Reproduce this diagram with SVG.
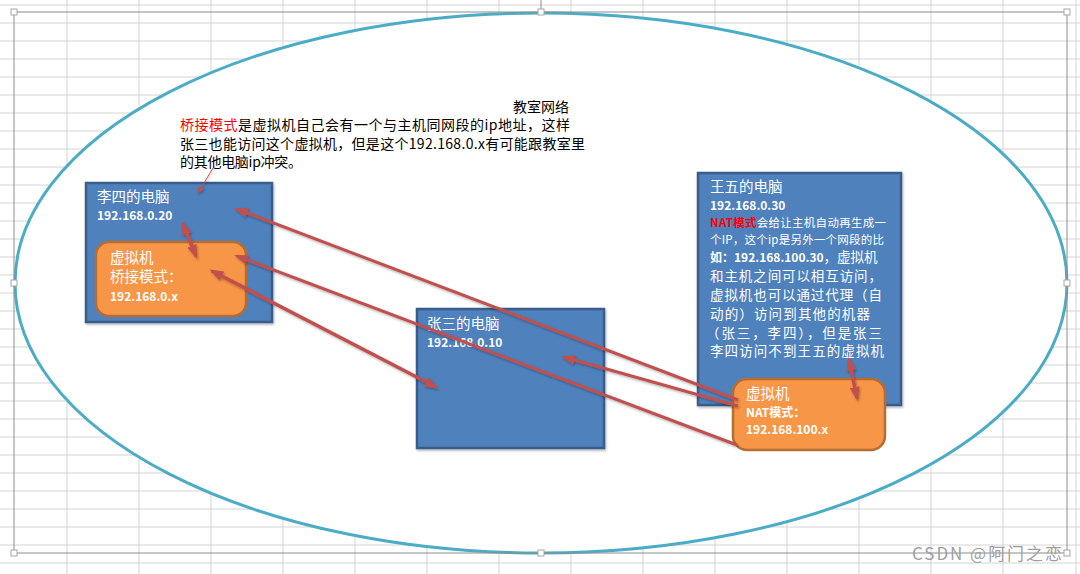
<svg xmlns="http://www.w3.org/2000/svg" width="1080" height="574" viewBox="0 0 1080 574">
<style>
.grid line{stroke:#d4d4d4;stroke-width:1}
.pc{fill:#4F81BD;stroke:#385D8A;stroke-width:2.5}
.vm{fill:#F79646;stroke:#B66D31;stroke-width:2.5}
text{font-family:"Noto Sans CJK SC","Noto Sans",sans-serif;}
.w{fill:#ffffff}
.t{font-size:14.5px}
.t2{font-size:13.5px}
.b{font-size:12px;font-weight:bold}
.s{font-size:11.5px}
.blk{fill:#000000;font-size:14px}
.red{fill:#FF0000}
.conn line{stroke:#C0504D;fill:none}
.thick{stroke-width:3}
.thicker{stroke-width:3.5}
.hd{fill:#ffffff;stroke:#a6a6a6;stroke-width:1}
</style>
<defs>
<marker id="ah" viewBox="0 0 14 10" markerWidth="14" markerHeight="10" refX="11" refY="5" orient="auto-start-reverse" markerUnits="userSpaceOnUse">
<path d="M0,0 L14,5 L0,10 z" fill="#C0504D"/>
</marker>
<marker id="ahs" viewBox="0 0 8 6" markerWidth="8" markerHeight="6" refX="7" refY="3" orient="auto" markerUnits="userSpaceOnUse">
<path d="M0,0 L8,3 L0,6 z" fill="#C0504D"/>
</marker>
<filter id="sh" x="-10%" y="-10%" width="130%" height="130%">
<feDropShadow dx="1" dy="1.5" stdDeviation="1" flood-color="#000" flood-opacity="0.3"/>
</filter>
</defs>
<rect width="1080" height="574" fill="#ffffff"/>
<g class="grid">
<line x1="0" y1="5" x2="1080" y2="5"/><line x1="0" y1="23" x2="1080" y2="23"/><line x1="0" y1="41" x2="1080" y2="41"/><line x1="0" y1="59" x2="1080" y2="59"/><line x1="0" y1="77" x2="1080" y2="77"/><line x1="0" y1="95" x2="1080" y2="95"/><line x1="0" y1="113" x2="1080" y2="113"/><line x1="0" y1="131" x2="1080" y2="131"/><line x1="0" y1="149" x2="1080" y2="149"/><line x1="0" y1="167" x2="1080" y2="167"/><line x1="0" y1="185" x2="1080" y2="185"/><line x1="0" y1="203" x2="1080" y2="203"/><line x1="0" y1="221" x2="1080" y2="221"/><line x1="0" y1="239" x2="1080" y2="239"/><line x1="0" y1="257" x2="1080" y2="257"/><line x1="0" y1="275" x2="1080" y2="275"/><line x1="0" y1="293" x2="1080" y2="293"/><line x1="0" y1="311" x2="1080" y2="311"/><line x1="0" y1="329" x2="1080" y2="329"/><line x1="0" y1="347" x2="1080" y2="347"/><line x1="0" y1="365" x2="1080" y2="365"/><line x1="0" y1="383" x2="1080" y2="383"/><line x1="0" y1="401" x2="1080" y2="401"/><line x1="0" y1="419" x2="1080" y2="419"/><line x1="0" y1="437" x2="1080" y2="437"/><line x1="0" y1="455" x2="1080" y2="455"/><line x1="0" y1="473" x2="1080" y2="473"/><line x1="0" y1="491" x2="1080" y2="491"/><line x1="0" y1="509" x2="1080" y2="509"/><line x1="0" y1="527" x2="1080" y2="527"/><line x1="0" y1="545" x2="1080" y2="545"/><line x1="0" y1="563" x2="1080" y2="563"/>
<line x1="67" y1="0" x2="67" y2="574"/><line x1="139" y1="0" x2="139" y2="574"/><line x1="211" y1="0" x2="211" y2="574"/><line x1="283" y1="0" x2="283" y2="574"/><line x1="355" y1="0" x2="355" y2="574"/><line x1="427" y1="0" x2="427" y2="574"/><line x1="499" y1="0" x2="499" y2="574"/><line x1="571" y1="0" x2="571" y2="574"/><line x1="643" y1="0" x2="643" y2="574"/><line x1="715" y1="0" x2="715" y2="574"/><line x1="787" y1="0" x2="787" y2="574"/><line x1="859" y1="0" x2="859" y2="574"/><line x1="931" y1="0" x2="931" y2="574"/><line x1="1003" y1="0" x2="1003" y2="574"/><line x1="1076" y1="0" x2="1076" y2="574"/>
</g>
<g id="network">
<ellipse cx="541" cy="283" rx="526" ry="270" fill="#ffffff" stroke="#4BACC6" stroke-width="3"/>
<text class="blk" x="513" y="112">教室网络</text>
</g>
<g id="note">
<text class="blk" x="180" y="130" textLength="390"><tspan class="red">桥接模式</tspan>是虚拟机自己会有一个与主机同网段的ip地址，这样</text>
<text class="blk" x="180" y="149" textLength="405">张三也能访问这个虚拟机，但是这个192.168.0.x有可能跟教室里</text>
<text class="blk" x="180" y="167" textLength="122">的其他电脑ip冲突。</text>
</g>
<g id="lisi">
<rect class="pc" x="86" y="183" width="186" height="139" filter="url(#sh)"/>
<text class="w t" x="97" y="202">李四的电脑</text>
<text class="w b" x="97" y="220">192.168.0.20</text>
</g>
<g id="lisi-vm">
<rect class="vm" x="96" y="242" width="150" height="74" rx="13"/>
<text class="w t" x="110" y="263">虚拟机</text>
<text class="w t" x="110" y="282">桥接模式：</text>
<text class="w b" x="110" y="301">192.168.0.x</text>
</g>
<g id="zhangsan">
<rect class="pc" x="417" y="309" width="187" height="139" filter="url(#sh)"/>
<text class="w t" x="427" y="329">张三的电脑</text>
<text class="w b" x="427" y="347">192.168.0.10</text>
</g>
<g id="wangwu">
<rect class="pc" x="698" y="173" width="203" height="232" filter="url(#sh)"/>
<text class="w t" x="710" y="192">王五的电脑</text>
<text class="w b" x="710" y="210">192.168.0.30</text>
<text class="w s" x="710" y="227" textLength="176"><tspan class="red" font-weight="bold">NAT模式</tspan>会给让主机自动再生成一</text>
<text class="w s" x="710" y="244" textLength="174">个IP，这个ip是另外一个网段的比</text>
<text class="w" x="710" y="262"><tspan class="b">如：192.168.100.30</tspan><tspan class="t2">，虚拟机</tspan></text>
<text class="w t2" x="710" y="281" textLength="172">和主机之间可以相互访问，</text>
<text class="w t2" x="710" y="300" textLength="172">虚拟机也可以通过代理（自</text>
<text class="w t2" x="710" y="319" textLength="160">动的）访问到其他的机器</text>
<text class="w t2" x="706" y="338" textLength="176">（张三，李四），但是张三</text>
<text class="w t2" x="710" y="356" textLength="174">李四访问不到王五的虚拟机</text>
</g>
<g id="wangwu-vm">
<rect class="vm" x="733" y="379" width="152" height="71" rx="14"/>
<text class="w t" x="746" y="399">虚拟机</text>
<text class="w b" x="746" y="417">NAT模式：</text>
<text class="w b" x="746" y="434">192.168.100.x</text>
</g>
<g id="connectors" class="conn" filter="url(#sh)">
<line x1="213" y1="168" x2="198" y2="193" stroke-width="1" marker-end="url(#ahs)"/>
<line class="thicker" x1="183" y1="224" x2="196" y2="256" marker-start="url(#ah)" marker-end="url(#ah)"/>
<line class="thick" x1="738" y1="400" x2="237" y2="209" marker-end="url(#ah)"/>
<line class="thick" x1="738" y1="406" x2="564" y2="357" marker-end="url(#ah)"/>
<line class="thick" x1="737" y1="445" x2="237" y2="256" marker-end="url(#ah)"/>
<line class="thicker" x1="212" y1="271" x2="436" y2="387" marker-start="url(#ah)" marker-end="url(#ah)"/>
<line class="thicker" x1="849" y1="360" x2="857" y2="398" marker-start="url(#ah)" marker-end="url(#ah)"/>
</g>
<g id="selection">
<rect x="14" y="12" width="1053" height="541" fill="none" stroke="#8c8c8c" stroke-width="1"/>
<line x1="541" y1="0" x2="541" y2="9" stroke="#8c8c8c" stroke-width="1"/>
<rect class="hd" x="11" y="9" width="6" height="6"/>
<rect class="hd" x="538" y="9" width="6" height="6"/>
<rect class="hd" x="1064" y="9" width="6" height="6"/>
<rect class="hd" x="11" y="280" width="6" height="6"/>
<rect class="hd" x="1064" y="280" width="6" height="6"/>
<rect class="hd" x="11" y="550" width="6" height="6"/>
<rect class="hd" x="538" y="550" width="6" height="6"/>
<rect class="hd" x="1064" y="550" width="6" height="6"/>
</g>
<text x="912" y="560" font-size="17" fill="#a0a0a0" textLength="150">CSDN @阿门之恋</text>
</svg>
